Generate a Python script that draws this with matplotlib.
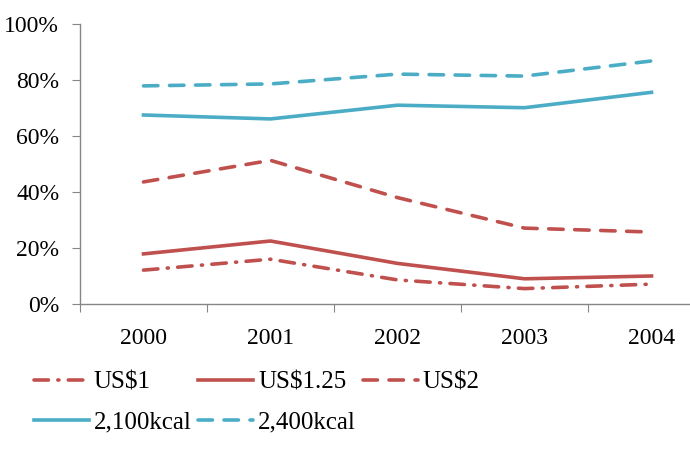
import matplotlib.pyplot as plt
from matplotlib.ticker import FixedLocator, NullFormatter, FuncFormatter

plt.rcParams['font.family'] = ['Liberation Serif', 'DejaVu Serif']

years = ['2000', '2001', '2002', '2003', '2004']
us1 = [12.1, 16.0, 8.6, 5.5, 7.1]
us125 = [17.9, 22.5, 14.5, 9.0, 10.0]
us2 = [43.6, 51.3, 38.0, 27.1, 25.7]
kcal2100 = [67.5, 66.1, 71.0, 70.1, 75.6]
kcal2400 = [77.9, 78.6, 82.1, 81.4, 86.8]

red = '#C0504D'
blue = '#4BACC6'
grey = '#868686'

fig = plt.figure(figsize=(6.9, 4.5), dpi=100)
ax = fig.add_axes([80 / 690, 146 / 450, 635 / 690, 280 / 450])

x = list(range(len(years)))
lw = 2.6
l1, = ax.plot(x, us1, color=red, lw=lw, linestyle=(0, (4, 2.6, 0.3, 2.6)),
              dash_capstyle='round', label='US$1')
l2, = ax.plot(x, us125, color=red, lw=lw, label='US$1.25')
l3, = ax.plot(x, us2, color=red, lw=lw, linestyle=(0, (4, 3.2)),
              dash_capstyle='round', label='US$2')
l4, = ax.plot(x, kcal2100, color=blue, lw=lw, label='2,100kcal')
l5, = ax.plot(x, kcal2400, color=blue, lw=lw, linestyle=(0, (4, 3.2)),
              dash_capstyle='round', label='2,400kcal')

ax.set_xlim(-0.5, 4.5)
ax.set_ylim(0, 100)
ax.set_yticks(range(0, 101, 20))
ax.yaxis.set_major_formatter(FuncFormatter(lambda v, p: f'{int(v)}%'))
ax.xaxis.set_major_locator(FixedLocator([i - 0.5 for i in range(6)]))
ax.xaxis.set_major_formatter(NullFormatter())
ax.xaxis.set_minor_locator(FixedLocator(x))
ax.xaxis.set_minor_formatter(FuncFormatter(lambda v, p: years[int(round(v))]))
ax.tick_params(axis='x', which='minor', length=0, pad=17, labelsize=17)
ax.tick_params(axis='x', which='major', length=6, color=grey, direction='out')
ax.tick_params(axis='y', length=6, color=grey, direction='out', labelsize=17, pad=9)

for s in ['top', 'right']:
    ax.spines[s].set_visible(False)
for s in ['left', 'bottom']:
    ax.spines[s].set_color(grey)
    ax.spines[s].set_linewidth(1)

# column-major fill, so order handles to read row by row
fig.legend(handles=[l1, l4, l2, l5, l3], ncol=3, frameon=False,
           loc='upper left', bbox_to_anchor=(21 / 690, 1 - 359 / 450),
           fontsize=18, handlelength=2.2, handletextpad=0.2,
           columnspacing=0.27, labelspacing=0.67, borderpad=0)

fig.savefig('out.png', dpi=100)
